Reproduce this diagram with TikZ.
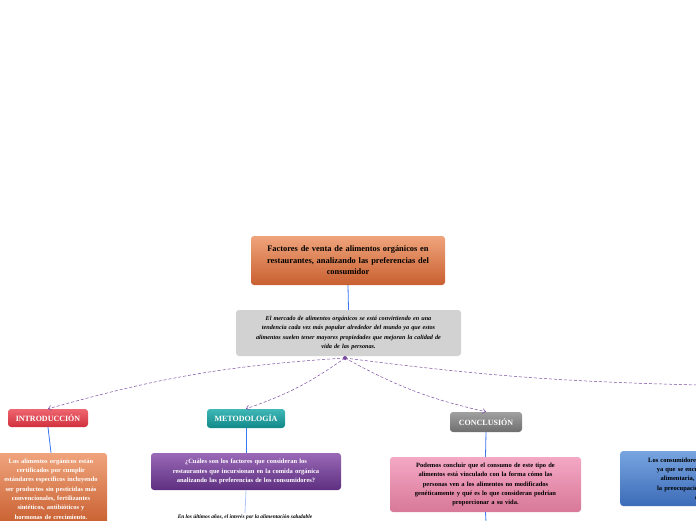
\documentclass[tikz,border=0pt]{standalone}
\usepackage{fontspec}
\setmainfont{Liberation Serif}
\usetikzlibrary{arrows.meta}
\hyphenpenalty=10000 \exhyphenpenalty=10000
\definecolor{orT}{HTML}{F0A47C}\definecolor{orB}{HTML}{C85F30}
\definecolor{gr}{HTML}{D2D2D2}
\definecolor{rdT}{HTML}{EE6670}\definecolor{rdB}{HTML}{D0303C}
\definecolor{tlT}{HTML}{40B8B8}\definecolor{tlB}{HTML}{108888}
\definecolor{gyT}{HTML}{A0A0A0}\definecolor{gyB}{HTML}{6E6E6E}
\definecolor{puT}{HTML}{9A6AB8}\definecolor{puB}{HTML}{5E2E80}
\definecolor{pkT}{HTML}{F4A8C4}\definecolor{pkB}{HTML}{D87898}
\definecolor{blT}{HTML}{78A4E0}\definecolor{blB}{HTML}{3C6CB8}
\definecolor{dsh}{HTML}{7A4AA0}\definecolor{ln}{HTML}{3A78F0}
\tikzset{
 bx/.style={rounded corners=3pt, inner sep=2pt, align=center, font=\bfseries},
 head/.style={bx, text=white, font=\bfseries\fontsize{8}{9}\selectfont},
 body/.style={bx, font=\bfseries\fontsize{6.5}{9.3}\selectfont},
 con/.style={ln, line width=0.8pt},
 dl/.style={dsh, densely dashed, line width=0.5pt, -{Straight Barb[length=3pt,width=5pt]}},
}
\begin{document}
\begin{tikzpicture}[x=1pt,y=-1pt]
\useasboundingbox (0,0) rectangle (696,520);
\clip (0,0) rectangle (696,520);
\node[bx, top color=orT, bottom color=orB, minimum width=194pt, minimum height=49pt, text width=188pt,
 font=\bfseries\fontsize{8.4}{11.5}\selectfont] (t) at (348,260.5)
 {Factores de venta de alimentos orgánicos en\\ restaurantes, analizando las preferencias del\\ consumidor};
\node[bx, fill=gr, minimum width=225pt, minimum height=46pt, text width=215pt,
 font=\bfseries\itshape\fontsize{6.2}{9.3}\selectfont] (g) at (348.5,333)
 {El mercado de alimentos orgánicos se está convirtiendo en una\\ tendencia cada vez más popular alrededor del mundo ya que estos\\ alimentos suelen tener mayores propiedades que mejoran la calidad de\\ vida de las personas.};
\draw[con] (t.south) -- (g.north);
\coordinate (o) at (345,358);
\fill[dsh] (o) circle (2pt);
\node[head, top color=rdT, bottom color=rdB, minimum width=80pt, minimum height=18pt] (i) at (48,418) {INTRODUCCIÓN};
\node[head, top color=tlT, bottom color=tlB, minimum width=78pt, minimum height=19pt] (m) at (246,418.5) {METODOLOGÍA};
\node[head, top color=gyT, bottom color=gyB, minimum width=72pt, minimum height=20pt] (c) at (486,422) {CONCLUSIÓN};
\coordinate (r) at (700,385);
\draw[dl] (o) to[bend right=6] (i.north);
\draw[dl] (o) to[bend left=8] (m.north);
\draw[dl] (o) to[bend right=8] (c.north);
\draw[dl] (o) to[bend right=3] (r);
\node[body, top color=orT, bottom color=orB, text=white, minimum width=112pt, minimum height=72pt, text width=108pt] (ib) at (51,489)
 {Los alimentos orgánicos están\\ certificados por cumplir\\ estándares específicos incluyendo\\ ser productos sin pesticidas más\\ convencionales, fertilizantes\\ sintéticos, antibióticos y\\ hormonas de crecimiento.};
\draw[con] (i.south) -- (ib.north);
\node[body, top color=puT, bottom color=puB, text=white, minimum width=190pt, minimum height=37pt, text width=180pt] (mb) at (246,471.5)
 {¿Cuáles son los factores que consideran los\\ restaurantes que incursionan en la comida orgánica\\ analizando las preferencias de los consumidores?};
\draw[con] (m.south) -- (mb.north);
\node[font=\bfseries\itshape\fontsize{5.4}{6}\selectfont, inner sep=1pt] (mt) at (245,517) {En los últimos años, el interés por la alimentación saludable};
\draw[con, ln!40] (mb.south) -- (mt.north);
\node[body, top color=pkT, bottom color=pkB, minimum width=191pt, minimum height=55pt, text width=180pt] (cb) at (485.5,484.5)
 {Podemos concluir que el consumo de este tipo de\\ alimentos está vinculado con la forma cómo las\\ personas ven a los alimentos no modificados\\ genéticamente y qué es lo que consideran podrían\\ proporcionar a su vida.};
\draw[con] (c.south) -- (cb.north);
\coordinate (ce) at (486,522);
\draw[con] (cb.south) -- (ce);
\node[body, top color=blT, bottom color=blB, minimum width=170pt, minimum height=55pt, text width=160pt, anchor=west] (rb) at (620,478.5)
 {Los consumidores optan por lo orgánico\\ ya que se encuentran la seguridad\\ alimentaria, el sabor, la salud y\\ la preocupación hacia el bienestar\\ animal.};
\end{tikzpicture}
\end{document}
